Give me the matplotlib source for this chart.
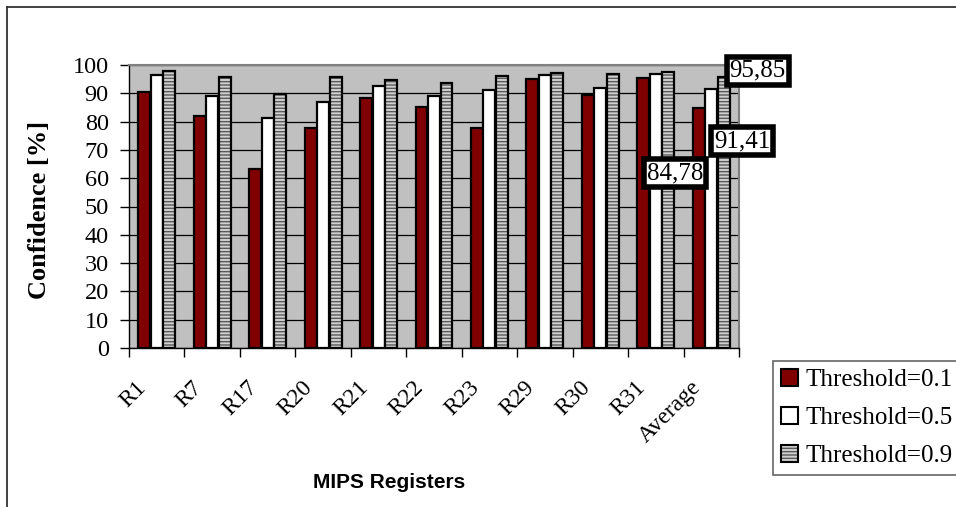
import matplotlib
matplotlib.use("Agg")
import matplotlib.pyplot as plt
import numpy as np
from matplotlib.patches import Patch
from matplotlib.legend_handler import HandlerTuple
from matplotlib.lines import Line2D
from matplotlib.transforms import ScaledTranslation

categories = ["R1", "R7", "R17", "R20", "R21", "R22", "R23", "R29", "R30", "R31", "Average"]
thr_01 = [90.5, 82.0, 63.4, 77.6, 88.5, 85.2, 77.7, 95.2, 89.5, 95.4, 84.78]
thr_05 = [96.4, 89.2, 81.1, 86.8, 92.7, 89.0, 91.2, 96.5, 91.8, 96.7, 91.41]
thr_09 = [97.8, 95.9, 89.9, 95.7, 94.7, 93.8, 96.0, 97.1, 96.8, 97.7, 95.85]
series_names = ["Threshold=0.1", "Threshold=0.5", "Threshold=0.9"]
y_ticks = list(range(0, 101, 10))

SERIF = "Liberation Serif"
SANS = "Liberation Sans"

W, H = 956, 507
fig = plt.figure(figsize=(W / 100, H / 100), dpi=100)
ax = fig.add_axes([129 / W, 1 - 348 / H, 610 / W, 283 / H])
ax.set_facecolor("#C0C0C0")

x = np.arange(len(categories))
bw = 0.215
step = 0.225
edge_lw = 1.6
stripe_face, stripe_col = "#D0D0D0", "#5A5A5A"

ax.bar(x - step, thr_01, bw, color="#800000", edgecolor="black", linewidth=edge_lw, zorder=3)
ax.bar(x, thr_05, bw, color="white", edgecolor="black", linewidth=edge_lw, zorder=3)
# striped fill, then a black outline on top
ax.bar(x + step, thr_09, bw, color=stripe_face, edgecolor=stripe_col, hatch="-----",
       linewidth=0, zorder=3)
ax.bar(x + step, thr_09, bw, fill=False, edgecolor="black", linewidth=edge_lw, zorder=4)

ax.set_xlim(-0.5, len(categories) - 0.5)
ax.set_ylim(0, 100)
ax.set_yticks(y_ticks)
ax.yaxis.grid(True, color="black", linewidth=0.9, zorder=1)
ax.set_axisbelow(True)

for lab in ax.get_yticklabels():
    lab.set_fontfamily(SERIF)
ax.tick_params(axis="y", labelsize=17.5, length=6.5, width=1, direction="out", pad=8)

# category boundaries carry the tick marks, centres carry the labels
ax.set_xticks(np.arange(-0.5, len(categories), 1.0))
ax.set_xticklabels([])
ax.set_xticks(x, minor=True)
ax.set_xticklabels(categories, minor=True, rotation=45, ha="right", va="top",
                   fontfamily=SERIF, fontsize=17)
ax.tick_params(axis="x", which="major", length=6.5, width=1, direction="out")
ax.tick_params(axis="x", which="minor", length=0, pad=21)
off = ScaledTranslation(-6 / 100, 0, fig.dpi_scale_trans)
for lab in ax.get_xticklabels(minor=True):
    lab.set_transform(lab.get_transform() + off)

for side in ["top", "right"]:
    ax.spines[side].set_color("#808080")
    ax.spines[side].set_linewidth(1.5)
for side in ["left", "bottom"]:
    ax.spines[side].set_color("black")
    ax.spines[side].set_linewidth(1.0)

fig.text(40 / W, 1 - 210 / H, "Confidence [%]", rotation=90, ha="center", va="center",
         fontfamily=SERIF, fontweight="bold", fontsize=19)
fig.text(389 / W, 1 - 482 / H, "MIPS Registers", ha="center", va="center",
         fontfamily=SANS, fontweight="bold", fontsize=15)

# value boxes for the Average group
box = dict(boxstyle="square,pad=0.12", facecolor="white", edgecolor="black", linewidth=4)
avg = len(categories) - 1
labels = [
    (avg - step, thr_01[avg], (-24, -65)),
    (avg, thr_05[avg], (31, -52)),
    (avg + step, thr_09[avg], (34, 6)),
]
for xv, yv, (dx, dy) in labels:
    ax.annotate(f"{yv:.2f}".replace(".", ","), (xv, yv), xytext=(dx * 0.72, dy * 0.72),
                textcoords="offset points", ha="center", va="center", fontfamily=SERIF,
                fontsize=18, bbox=box, zorder=6, annotation_clip=False)

handles = [
    Patch(facecolor="#800000", edgecolor="black", linewidth=1.5),
    Patch(facecolor="white", edgecolor="black", linewidth=1.5),
    (Patch(facecolor=stripe_face, edgecolor=stripe_col, hatch="-----", linewidth=0),
     Patch(fill=False, edgecolor="black", linewidth=1.5)),
]
leg = fig.legend(handles, series_names, loc="upper left",
                 bbox_to_anchor=(773 / W, 1 - 361 / H), prop={"family": SERIF, "size": 18},
                 handler_map={tuple: HandlerTuple(ndivide=1, pad=0)},
                 handlelength=0.68, handleheight=0.68, handletextpad=0.3,
                 labelspacing=0.63, borderpad=0.3, borderaxespad=0, fancybox=False,
                 frameon=True)
leg.get_frame().set_edgecolor("#404040")
leg.get_frame().set_linewidth(1.2)

# outer frame of the figure
fig.add_artist(Line2D([6.5 / W, 6.5 / W], [0, 1 - 7 / H], color="#333333", linewidth=1.3))
fig.add_artist(Line2D([6.5 / W, 1], [1 - 7 / H, 1 - 7 / H], color="#333333", linewidth=1.3))

fig.savefig("out.png", dpi=100)
